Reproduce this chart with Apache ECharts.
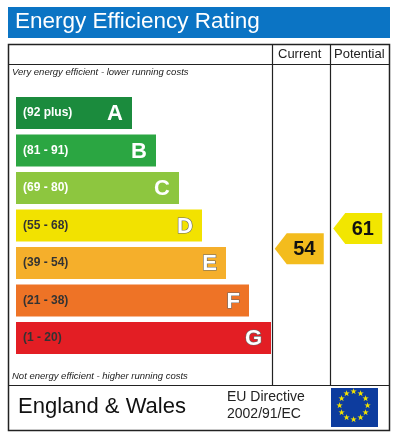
<!DOCTYPE html><html><head><meta charset="utf-8"><script src="https://cdn.jsdelivr.net/npm/echarts@6/dist/echarts.min.js"></script>
<style>body{margin:0}#c{width:400px;height:437px}</style></head><body><div id="c"></div><script>
const bands=['A','B','C','D','E','F','G'];
const ranges=['(92 plus)','(81 - 91)','(69 - 80)','(55 - 68)','(39 - 54)','(21 - 38)','(1 - 20)'];
const bandLengths=[116,140,163,186,210,233,255];
const bandColors=['#1b8b3d','#2ba642','#8dc63f','#f2e200','#f5af2b','#ee7326','#e31e24'];
const columns=['Current','Potential'];
const ratings=[54,61];
const ratingPos=[3.62,3.08];
const ratingColors=['#f3bc1d','#f2e600'];
const F='Liberation Sans, Arial, sans-serif';
const ch=echarts.init(document.getElementById('c'));
const stars=[];for(let i=0;i<12;i++){const a=i*Math.PI/6;stars.push({type:'text',left:354+14*Math.cos(a)-4,top:407+14*Math.sin(a)-5,style:{text:'★',fill:'#f4e400',font:'8px DejaVu Sans'}});}
ch.setOption({animation:false,
grid:[{left:16,top:94.25,width:255,height:262.5},{left:272,top:94.25,width:117,height:262.5}],
xAxis:[{type:'value',min:0,max:255,show:false,gridIndex:0},{type:'category',data:columns,show:false,gridIndex:1}],
yAxis:[{type:'category',data:bands,inverse:true,show:false,gridIndex:0},{type:'value',min:-0.5,max:6.5,inverse:true,show:false,gridIndex:1}],
graphic:[
{type:'rect',shape:{x:8,y:7,width:382,height:31},style:{fill:'#0b74c4'}},
{type:'text',left:15,top:10,style:{text:'Energy Efficiency Rating',fill:'#fff',font:'22.5px '+F}},
{type:'rect',shape:{x:8.5,y:44.5,width:381,height:386},style:{fill:'none',stroke:'#222',lineWidth:1.5}},
{type:'line',shape:{x1:8,y1:64.5,x2:390,y2:64.5},style:{stroke:'#222',lineWidth:1.2}},
{type:'line',shape:{x1:8,y1:385.5,x2:390,y2:385.5},style:{stroke:'#222',lineWidth:1.2}},
{type:'line',shape:{x1:272.5,y1:44,x2:272.5,y2:385},style:{stroke:'#222',lineWidth:1.2}},
{type:'line',shape:{x1:330.5,y1:44,x2:330.5,y2:385},style:{stroke:'#222',lineWidth:1.2}},
{type:'text',left:278,top:48,style:{text:'Current',fill:'#222',font:'13px '+F}},
{type:'text',left:334,top:48,style:{text:'Potential',fill:'#222',font:'13px '+F}},
{type:'text',left:12,top:67,style:{text:'Very energy efficient - lower running costs',fill:'#222',font:'italic 9.5px '+F}},
{type:'text',left:12,top:371,style:{text:'Not energy efficient - higher running costs',fill:'#222',font:'italic 9.5px '+F}},
{type:'text',left:18,top:396,style:{text:'England & Wales',fill:'#111',font:'22px '+F}},
{type:'text',left:227,top:389,style:{text:'EU Directive\n2002/91/EC',fill:'#222',font:'14px '+F,lineHeight:17}},
{type:'rect',shape:{x:331,y:388,width:47,height:39},style:{fill:'#0d3c9e'}},
...stars],
series:[
{type:'custom',xAxisIndex:0,yAxisIndex:0,data:bandLengths.map((v,i)=>[v,i]),
renderItem:(p,api)=>{const i=p.dataIndex;const s=api.coord([0,i]);const e=api.coord([api.value(0),i]);const h=32;
return {type:'group',children:[
{type:'rect',shape:{x:s[0],y:s[1]-h/2,width:e[0]-s[0],height:h},style:{fill:bandColors[i]}},
{type:'text',x:s[0]+7,y:s[1],style:{text:ranges[i],fill:i<3?'#fff':'#333',font:'bold 12px '+F,verticalAlign:'middle'}},
{type:'text',x:e[0]-9,y:s[1]+1,style:{text:bands[i],fill:'#fff',stroke:i<3?null:'#666',lineWidth:1.2,font:'bold 22px '+F,align:'right',verticalAlign:'middle'}}]};}},
{type:'custom',xAxisIndex:1,yAxisIndex:1,data:ratings.map((v,i)=>[i,ratingPos[i],v]),
renderItem:(p,api)=>{const i=p.dataIndex;const c=api.coord([i,api.value(1)]);const w=49,h=31,x0=c[0]-w/2-2,x1=c[0]+w/2-2;
return {type:'group',children:[
{type:'polygon',shape:{points:[[x0,c[1]],[x0+12,c[1]-h/2],[x1,c[1]-h/2],[x1,c[1]+h/2],[x0+12,c[1]+h/2]]},style:{fill:ratingColors[i]}},
{type:'text',x:c[0]+3,y:c[1]+1,style:{text:String(api.value(2)),fill:'#111',font:'bold 20px '+F,align:'center',verticalAlign:'middle'}}]};}}
]});
</script></body></html>
